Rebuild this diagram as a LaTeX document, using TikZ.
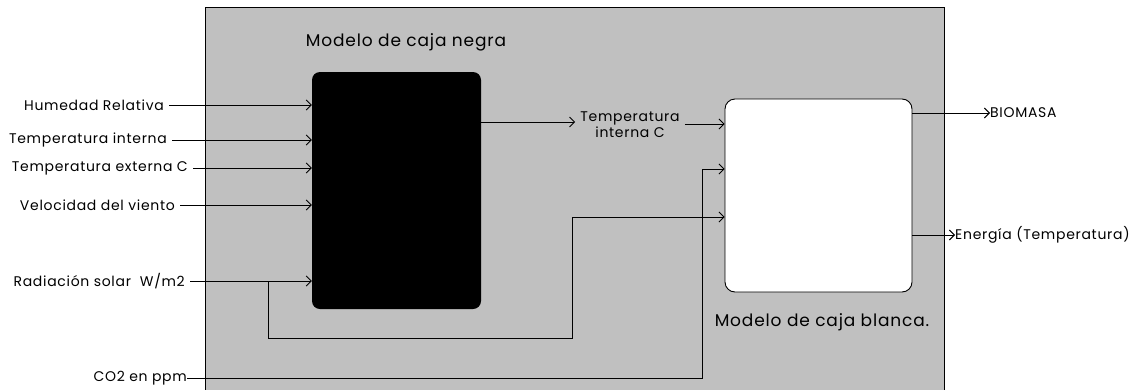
\documentclass[tikz,border=0pt]{standalone}
\usepackage{fontspec}
\setmainfont{Poppins}[LetterSpace=5]
\usetikzlibrary{arrows.meta}
\definecolor{panel}{RGB}{192,192,192}

\begin{document}
\begin{tikzpicture}[x=1pt,y=-1pt,
  lbl/.style={font=\fontsize{14}{16}\selectfont,inner sep=0pt},
  titulo/.style={font=\fontsize{17}{20}\selectfont,inner sep=0pt},
  linea/.style={line width=0.9pt},
  flecha/.style={linea,-{Straight Barb[length=5pt,width=10pt]}}]
\useasboundingbox (0,0) rectangle (1136,389);

% Panel gris
\fill[panel] (205,7) rectangle (944,395);
\draw[linea] (205,395) -- (205,7) -- (944,7) -- (944,395);

% Caja negra
\node[fill=black,rounded corners=8pt,minimum width=169pt,minimum height=237pt,inner sep=0pt] (negra) at (396.5,190.5) {};
\node[titulo] (tnegra) at (406,42) {Modelo de caja negra};

% Caja blanca
\node[draw,linea,fill=white,rounded corners=10pt,minimum width=187pt,minimum height=193pt,inner sep=0pt] (blanca) at (818.5,195.5) {};
\node[titulo] (tblanca) at (822,322) {Modelo de caja blanca.};

% Entradas
\foreach \n/\x/\y/\t in {
hum/164/105/{Humedad Relativa},
tint/167/140/{Temperatura interna},
text/188/168/{Temperatura externa C},
vel/175/205/{Velocidad del viento},
rad/185/281/{Radiación solar~~W/m2}
}
{
\node[lbl,anchor=east] (\n) at (\x,\y) {\t};
\draw[flecha] ([xshift=5pt]\n.east) -- (\n.east -| negra.west);
}

\node[lbl,anchor=east] (co2) at (187,378) {CO2 en ppm};

% Temperatura interna C
\node[lbl,align=center] (tic) at (630,125) {Temperatura\\interna C};
\draw[flecha] (negra.east |- 0,122) -- ([xshift=-5pt]tic.west |- 0,122);
\draw[flecha] ([xshift=5pt]tic.east |- 0,124) -- (blanca.west |- 0,124);

% Conexiones a la caja blanca
\draw[flecha] (co2.east) -| (702,169) -- (blanca.west |- 0,169);
\coordinate (rama) at (268,281);
\draw[flecha] (rama) |- (572,338) |- (blanca.west |- 0,217);

% Salidas
\node[lbl,anchor=west] (bio) at (990,113) {BIOMASA};
\node[lbl,anchor=west] (ene) at (955,235) {Energía (Temperatura)};
\draw[flecha] (blanca.east |- bio.west) -- (bio.west);
\draw[flecha] (blanca.east |- ene.west) -- (ene.west);

\end{tikzpicture}
\end{document}
